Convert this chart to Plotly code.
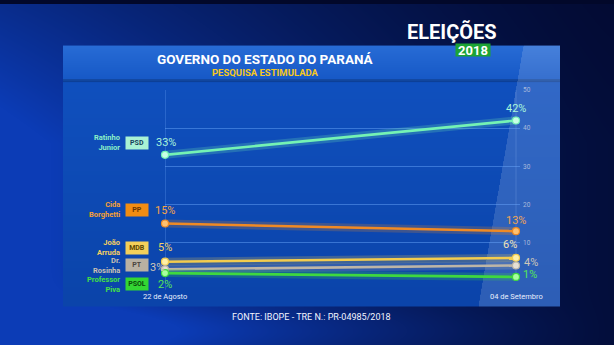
import base64
import struct
import zlib

import numpy as np
import plotly.graph_objects as go

# ---------------------------------------------------------------- data
dates = ["22 de Agosto", "04 de Setembro"]
candidates = ["Ratinho Junior", "Cida Borghetti", "João Arruda", "Dr. Rosinha", "Professor Piva"]
name_lines = ["Ratinho<br>Junior", "Cida<br>Borghetti", "João<br>Arruda", "Dr.<br>Rosinha", "Professor<br>Piva"]
parties = ["PSD", "PP", "MDB", "PT", "PSOL"]
poll_aug = [33, 15, 5, 3, 2]
poll_sep = [42, 13, 6, 4, 1]
y_ticks = [10, 20, 30, 40, 50]

# ---------------------------------------------------------------- styles
W, H = 614, 345
line_colors = ["#74f2b4", "#f08a24", "#f3cc4e", "#bdb5a6", "#3fd83f"]
marker_colors = ["#c8ffe6", "#ffc070", "#fff0a8", "#e6e0d6", "#a8ffa0"]
name_colors = ["#8cf0c8", "#f5a033", "#f5d063", "#c9c1b2", "#45e045"]
box_colors = ["#a9f2d4", "#f28c12", "#f3cf5a", "#b9b1a2", "#33d633"]
box_text = ["#15405a", "#6a3500", "#5a4400", "#4a443c", "#0b4a0b"]
start_label_colors = ["#aaf7dc", "#f5a444", "#f5d466", "#cfc7b8", "#55e455"]
end_label_colors = ["#aaf7dc", "#f0a454", "#f3e4b4", "#cfc7b8", "#55e455"]
name_y_px = [140, 208, 246, 264.5, 283.5]
box_y_px = [141, 208, 247, 264, 283]
start_shift = [(1, 12), (0, 13), (0, 14), (-8, 2), (0, -11)]
end_shift = [(0, 12), (0, 11), (-6, 13), (15, 3), (14, 2)]

X_LEFT, X_RIGHT = 165, 520          # plot area, pixels
Y_TOP, Y_ZERO = 87, 280             # y=50 and y=0, pixels
x_max = 1 / ((516 - X_LEFT) / (X_RIGHT - X_LEFT))


def px(x):
    return x / W


def py(y):
    return 1 - y / H


# ---------------------------------------------------------------- backdrop
def backdrop():
    yy, xx = np.mgrid[0:H, 0:W].astype(float)
    dark = np.array([2, 6, 38], float)
    blue = np.array([12, 60, 182], float)
    w = 0.95 * (1 - xx / W) ** 1.3 + 0.15
    w += 0.35 * np.exp(-((yy - 330) / 25) ** 2) * (1 - xx / W)
    w *= 0.65 + 0.35 * np.clip(yy / 140, 0, 1)
    w = np.clip(w, 0, 1)[..., None]
    img = dark + (blue - dark) * w

    # main panel
    panel = (xx >= 63) & (xx <= 559) & (yy >= 42) & (yy <= 305)
    body_top = np.array([16, 80, 190], float)
    body_bot = np.array([11, 68, 170], float)
    t = np.clip((yy - 77) / 228, 0, 1)[..., None]
    body = body_top + (body_bot - body_top) * t
    img = np.where(panel[..., None], body, img)

    # title band
    band = (xx >= 63) & (xx <= 559) & (yy >= 42) & (yy <= 77)
    b_top = np.array([40, 108, 214], float)
    b_bot = np.array([22, 88, 198], float)
    tb = np.clip((yy - 42) / 35, 0, 1)[..., None]
    img = np.where(band[..., None], b_top + (b_bot - b_top) * tb, img)
    edge = (xx >= 63) & (xx <= 559) & (yy >= 76) & (yy <= 78)
    img = np.where(edge[..., None], img * 0.8, img)

    # glass sheen on the right
    glass = panel & (xx > 523 - (yy - 42) * (45 / 263))
    img = np.where(glass[..., None], img + (255 - img) * 0.14, img)

    arr = np.clip(img, 0, 255).astype(np.uint8)
    raw = b"".join(b"\x00" + arr[r].tobytes() for r in range(H))

    def chunk(tag, data):
        return (struct.pack(">I", len(data)) + tag + data
                + struct.pack(">I", zlib.crc32(tag + data) & 0xFFFFFFFF))

    png = (b"\x89PNG\r\n\x1a\n"
           + chunk(b"IHDR", struct.pack(">IIBBBBB", W, H, 8, 2, 0, 0, 0))
           + chunk(b"IDAT", zlib.compress(raw, 9))
           + chunk(b"IEND", b""))
    return "data:image/png;base64," + base64.b64encode(png).decode()


fig = go.Figure()

xs = [0, 1]
for i, name in enumerate(candidates):
    ys = [poll_aug[i], poll_sep[i]]
    # soft glow under each line
    fig.add_trace(go.Scatter(x=xs, y=ys, mode="lines", showlegend=False,
                             line=dict(color=line_colors[i], width=8),
                             opacity=0.22, hoverinfo="skip", cliponaxis=False))
    fig.add_trace(go.Scatter(x=xs, y=ys, mode="lines+markers", name=name,
                             showlegend=False, cliponaxis=False,
                             line=dict(color=line_colors[i], width=2.6),
                             marker=dict(size=7, color=marker_colors[i],
                                         line=dict(width=1.2, color=line_colors[i]))))

annotations = []
font = "Roboto"
for i in range(len(candidates)):
    annotations.append(dict(
        xref="paper", yref="paper", x=px(122), y=py(name_y_px[i]),
        xanchor="right", yanchor="middle",
        text=name_lines[i], showarrow=False, align="right",
        font=dict(family=font, size=7.5, color=name_colors[i], weight="bold")))
    annotations.append(dict(
        xref="paper", yref="paper", x=px(137), y=py(box_y_px[i]),
        xanchor="center", yanchor="middle",
        text=parties[i], showarrow=False, bgcolor=box_colors[i], width=20, height=10,
        borderpad=1, font=dict(family=font, size=7, color=box_text[i], weight="bold")))
    dx, dy = start_shift[i]
    annotations.append(dict(
        xref="x", yref="y", x=0, y=poll_aug[i], xshift=dx, yshift=dy,
        xanchor="center", yanchor="middle",
        text=f"{poll_aug[i]}%", showarrow=False,
        font=dict(family=font, size=11, color=start_label_colors[i])))
    dx, dy = end_shift[i]
    annotations.append(dict(
        xref="x", yref="y", x=1, y=poll_sep[i], xshift=dx, yshift=dy,
        xanchor="center", yanchor="middle",
        text=f"{poll_sep[i]}%", showarrow=False,
        font=dict(family=font, size=11, color=end_label_colors[i])))

for j, d in enumerate(dates):
    annotations.append(dict(
        xref="x", yref="paper", x=j, y=py(296), xanchor="center", yanchor="middle",
        text=d, showarrow=False,
        font=dict(family=font, size=7.5, color="#e8eefc")))

annotations += [
    dict(xref="paper", yref="paper", x=px(265), y=py(56), xanchor="center", yanchor="middle",
         text="GOVERNO DO ESTADO DO PARANÁ", showarrow=False,
         font=dict(family=font, size=13.5, color="white", weight="bold")),
    dict(xref="paper", yref="paper", x=px(265), y=py(69), xanchor="center", yanchor="middle",
         text="PESQUISA ESTIMULADA", showarrow=False,
         font=dict(family=font, size=9.5, color="#f7c81e", weight="bold")),
    dict(xref="paper", yref="paper", x=px(452), y=py(28), xanchor="center", yanchor="middle",
         text="ELEIÇÕES", showarrow=False,
         font=dict(family=font, size=20, color="white", weight="bold")),
    dict(xref="paper", yref="paper", x=px(472.5), y=py(46.5), xanchor="center", yanchor="middle",
         text="2018", showarrow=False,
         bgcolor="#1ca335", width=34, height=12, borderpad=0,
         font=dict(family=font, size=13, color="white", weight="bold")),
    dict(xref="paper", yref="paper", x=px(311), y=py(317), xanchor="center", yanchor="middle",
         text="FONTE: IBOPE - TRE N.: PR-04985/2018", showarrow=False,
         font=dict(family=font, size=9, color="#f2f5ff")),
]

shapes = [
    dict(type="line", xref="x", yref="paper", x0=0, x1=0, y0=py(Y_TOP), y1=py(289),
         line=dict(color="rgba(120,175,255,0.5)", width=1), layer="below"),
    dict(type="line", xref="x", yref="paper", x0=1, x1=1, y0=py(Y_TOP), y1=py(Y_ZERO),
         line=dict(color="rgba(170,200,255,0.2)", width=1), layer="below"),
]

fig.update_layout(
    width=W, height=H, margin=dict(l=0, r=0, t=0, b=0),
    paper_bgcolor="#02082a", plot_bgcolor="rgba(0,0,0,0)",
    images=[dict(source=backdrop(), xref="paper", yref="paper", x=0, y=1,
                 sizex=1, sizey=1, xanchor="left", yanchor="top",
                 sizing="stretch", layer="below")],
    xaxis=dict(domain=[px(X_LEFT), px(X_RIGHT)], range=[0, x_max],
               showgrid=False, zeroline=False, showticklabels=False, fixedrange=True),
    yaxis=dict(domain=[py(Y_ZERO), py(Y_TOP)], range=[0, 50], side="right",
               tickvals=y_ticks, ticktext=[str(v) for v in y_ticks],
               tickfont=dict(family=font, size=6.5, color="#a9b9dc"),
               showgrid=True, gridcolor="rgba(110,170,255,0.45)", gridwidth=1,
               zeroline=False, ticks="", ticklabelstandoff=2),
    annotations=annotations, shapes=shapes, showlegend=False,
)

fig.write_html("out.html")
